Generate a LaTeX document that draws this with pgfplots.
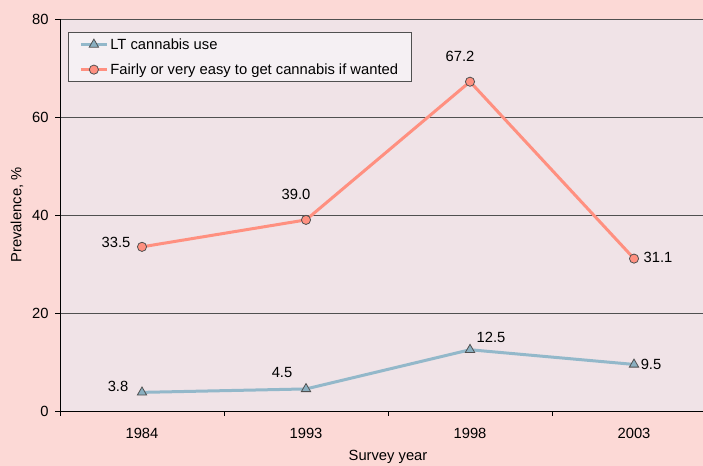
\documentclass[border=0pt]{standalone}
\usepackage{pgfplots}
\pgfplotsset{compat=1.18}
\usepackage{pgfplotstable}
\usepackage{fontspec}
\setmainfont{Liberation Sans}

\definecolor{pagebg}{HTML}{FCD9D6}
\definecolor{plotbg}{HTML}{F0E3E7}
\definecolor{legbg}{HTML}{F5F0F3}
\definecolor{ltblue}{HTML}{93B8CA}
\definecolor{ltbluemark}{HTML}{8AAFC0}
\definecolor{salmon}{HTML}{FF9080}
\definecolor{gridgray}{HTML}{505050}

\newcommand\chartfont{\fontsize{14.8}{17}\selectfont}

% x: survey index (0=1984, 1=1993, 2=1998, 3=2003); dx, dy: label offset
\pgfplotstableread{
x  y     lbl   dx   dy
0  3.8   3.8   -24  6
1  4.5   4.5   -24  16
2  12.5  12.5  21   12
3  9.5   9.5   17   0
}\ltuse
\pgfplotstableread{
x  y     lbl   dx   dy
0  33.5  33.5  -26  4
1  39.0  39.0  -10  25
2  67.2  67.2  -10  25
3  31.1  31.1  24   1
}\easyget

\begin{document}
\begin{tikzpicture}[x=1bp,y=1bp]
\fill[pagebg] (0,0) rectangle (703,466);
\begin{axis}[
  at={(60bp,55bp)}, anchor=south west,
  scale only axis, width=656bp, height=392bp,
  font=\chartfont,
  /pgf/number format/assume math mode=true,
  axis background/.style={fill=plotbg},
  axis x line*=bottom, axis y line*=left,
  axis line style={black, line width=0.9pt},
  xmin=-0.5, xmax=3.5, ymin=0, ymax=80,
  xtick={-0.5,0.5,1.5,2.5,3.5},
  x tick label as interval,
  xticklabels={1984,1993,1998,2003},
  ytick={0,20,40,60,80},
  ymajorgrids, grid style={gridgray, line width=0.7pt},
  tick align=outside, major tick length=5bp,
  tick style={black, line width=0.8pt},
  xticklabel style={yshift=-9bp},
  yticklabel style={xshift=-3bp},
  xlabel={Survey year},
  ylabel={Prevalence, \%},
  every axis x label/.style={at={(axis description cs:0.5,0)}, yshift=-46bp, anchor=center},
  every axis y label/.style={at={(axis description cs:0,0.5)}, xshift=-43bp, rotate=90, anchor=center},
  legend style={at={(axis description cs:0,1)}, anchor=north west,
    xshift=8bp, yshift=-13bp,
    fill=legbg, draw=gridgray, line width=0.8pt,
    font=\chartfont,
    row sep=9bp, inner xsep=11bp, inner ysep=4bp},
  legend cell align=left,
  legend image code/.code={%
    \draw[mark repeat=2, mark phase=2] plot coordinates {(0bp,0bp) (13bp,0bp) (26bp,0bp)};},
  nodes near coords,
  point meta=explicit symbolic,
  visualization depends on={\thisrow{dx}\as\dx},
  visualization depends on={\thisrow{dy}\as\dy},
  every node near coord/.append style={anchor=center, xshift=\dx bp, yshift=\dy bp, black, font=\chartfont},
]
\addplot[ltblue, line width=3bp, mark=triangle*,
  mark options={fill=ltbluemark, draw=gridgray, line width=0.8pt, scale=2.7}]
  table[x=x, y=y, meta=lbl] {\ltuse};
\addlegendentry{LT cannabis use}
\addplot[salmon, line width=3bp, mark=*,
  mark options={fill=salmon, draw=gridgray, line width=0.8pt, scale=2.3}]
  table[x=x, y=y, meta=lbl] {\easyget};
\addlegendentry{Fairly or very easy to get cannabis if wanted}
\end{axis}
\pgfresetboundingbox
\useasboundingbox (0,0) rectangle (703,466);
\end{tikzpicture}
\end{document}
